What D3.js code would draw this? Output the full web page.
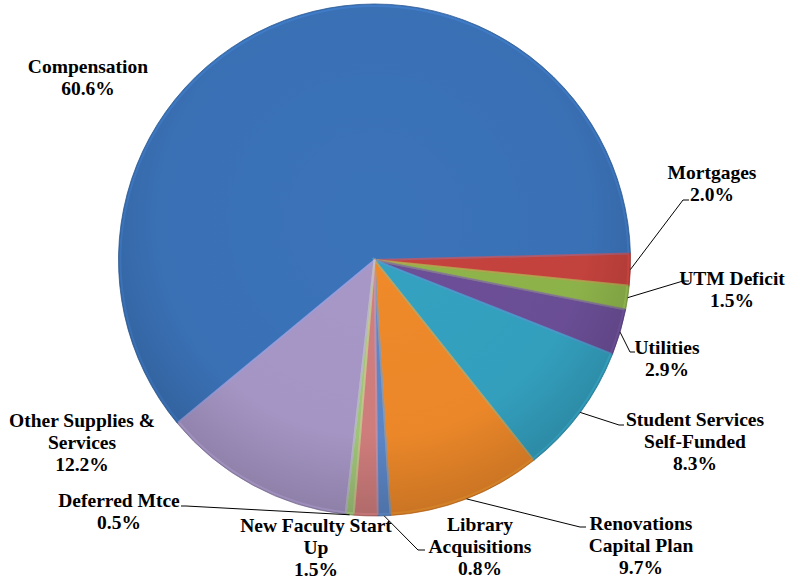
<!DOCTYPE html>
<html>
<head>
<meta charset="utf-8">
<script src="https://cdn.jsdelivr.net/npm/d3@7"></script>
<style>
  html, body { margin: 0; padding: 0; background: #fff; }
  svg { display: block; }
</style>
</head>
<body>
<div id="chart"></div>
<script>
// Budget breakdown, clockwise from Compensation
const categories = [
  "Compensation", "Mortgages", "UTM Deficit", "Utilities",
  "Student Services Self-Funded", "Renovations Capital Plan",
  "Library Acquisitions", "New Faculty Start Up", "Deferred Mtce",
  "Other Supplies & Services"
];
const shares = [60.6, 2.0, 1.5, 2.9, 8.3, 9.7, 0.8, 1.5, 0.5, 12.2];
const labelLines = [
  ["Compensation"], ["Mortgages"], ["UTM Deficit"], ["Utilities"],
  ["Student Services", "Self-Funded"], ["Renovations", "Capital Plan"],
  ["Library", "Acquisitions"], ["New Faculty Start", "Up"], ["Deferred Mtce"],
  ["Other Supplies &", "Services"]
];

const colors = [
  "#3b73b9", "#c6433e", "#8fb54b", "#6c4f98", "#34a2c1",
  "#f08a2a", "#5d88c9", "#d27f7e", "#a2c77b", "#a898c8"
];

// label layout: centre x, y of first line centre, leader bend + end
const labelLayout = [
  { x: 88,  y: 66,  leader: null },
  { x: 712, y: 172, leader: [[683, 200], [689, 200]] },
  { x: 732, y: 278, leader: [[683, 281], [689, 281]] },
  { x: 667, y: 347, leader: [[630, 352], [635, 352]] },
  { x: 695, y: 419, leader: [[619, 425], [624, 425]] },
  { x: 641, y: 523, leader: [[580, 527], [586, 527]] },
  { x: 480, y: 524, leader: [[418, 550], [425, 550]] },
  { x: 316, y: 525, leader: null },
  { x: 119, y: 500, leader: [[186, 506], [181, 506]] },
  { x: 82,  y: 420, leader: null }
];

const width = 788, height = 579;
const cx = 374.5, cy = 260, radius = 256;
const lineStep = 22;

const data = categories.map((c, i) => ({ name: c, value: shares[i], i }));

const startDeg = 230.4;
const pie = d3.pie()
  .sort(null)
  .value(d => d.value)
  .startAngle(startDeg * Math.PI / 180)
  .endAngle(startDeg * Math.PI / 180 + 2 * Math.PI);

const arcs = pie(data);
const arc = d3.arc().innerRadius(0).outerRadius(radius);

const svg = d3.select("#chart").append("svg")
  .attr("width", width)
  .attr("height", height)
  .attr("viewBox", [0, 0, width, height]);

const defs = svg.append("defs");

// soft shading over the whole pie, a little darker toward the rim
const shade = defs.append("radialGradient")
  .attr("id", "shade")
  .attr("gradientUnits", "userSpaceOnUse")
  .attr("cx", cx).attr("cy", cy - 40).attr("r", radius * 1.2);
shade.append("stop").attr("offset", "0%").attr("stop-color", "#000").attr("stop-opacity", 0);
shade.append("stop").attr("offset", "70%").attr("stop-color", "#000").attr("stop-opacity", 0.02);
shade.append("stop").attr("offset", "100%").attr("stop-color", "#000").attr("stop-opacity", 0.18);

const g = svg.append("g").attr("transform", `translate(${cx},${cy})`);

// slices
g.selectAll("path.slice")
  .data(arcs)
  .join("path")
  .attr("class", "slice")
  .attr("d", arc)
  .attr("fill", d => colors[d.data.i])
  .attr("stroke", d => d3.color(colors[d.data.i]).darker(0.6))
  .attr("stroke-width", 0.8)
  .attr("stroke-linejoin", "round");

// bevel highlight along slice edges
g.selectAll("path.bevel")
  .data(arcs)
  .join("path")
  .attr("class", "bevel")
  .attr("d", d3.arc().innerRadius(0).outerRadius(radius - 2))
  .attr("fill", "none")
  .attr("stroke", d => d3.color(colors[d.data.i]).brighter(0.5))
  .attr("stroke-opacity", 0.5)
  .attr("stroke-width", 2);

g.append("circle")
  .attr("r", radius)
  .attr("fill", "url(#shade)")
  .attr("transform", `translate(${-cx},${-cy})`)
  .attr("cx", cx).attr("cy", cy);

// leader lines from the middle of each slice's rim
arcs.forEach(d => {
  const lay = labelLayout[d.data.i];
  if (!lay.leader) return;
  const mid = (d.startAngle + d.endAngle) / 2;
  const p0 = [cx + radius * Math.sin(mid), cy - radius * Math.cos(mid)];
  svg.append("path")
    .attr("d", d3.line()([p0, ...lay.leader]))
    .attr("fill", "none")
    .attr("stroke", "#000")
    .attr("stroke-width", 1);
});

// labels
const labels = svg.append("g")
  .attr("font-family", "'Liberation Serif', 'Times New Roman', serif")
  .attr("font-weight", "bold")
  .attr("font-size", "19.5px")
  .attr("fill", "#000")
  .attr("text-anchor", "middle");

data.forEach(d => {
  const lay = labelLayout[d.i];
  const lines = [...labelLines[d.i], `${d.value.toFixed(1)}%`];
  const t = labels.append("text")
    .attr("x", lay.x)
    .attr("y", lay.y + 6.5);
  lines.forEach((ln, k) => {
    t.append("tspan")
      .attr("x", lay.x)
      .attr("dy", k === 0 ? 0 : lineStep)
      .text(ln);
  });
});
</script>
</body>
</html>
